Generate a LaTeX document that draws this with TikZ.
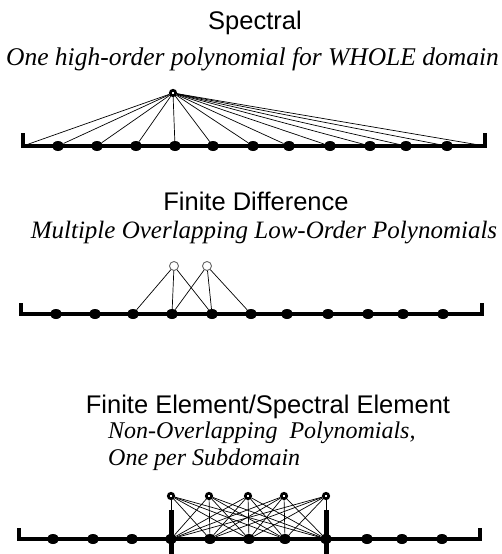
\documentclass[tikz,border=0pt]{standalone}
\usepackage{fontspec}
\setmainfont{Liberation Serif}
\setsansfont{Liberation Sans}
\usetikzlibrary{shapes.geometric}
\tikzset{
 axis/.style={line width=3.2pt},
 bar/.style={line width=5pt},
 dot/.style={fill,ellipse,inner sep=0pt,minimum width=12pt,minimum height=10pt},
 ring/.style={draw,circle,line width=2.6pt,inner sep=0pt,minimum size=5.5pt},
 lightring/.style={draw=black!60,circle,line width=0.9pt,inner sep=0pt,minimum size=9pt},
 fan/.style={line width=0.7pt},
 heading/.style={font=\sffamily\fontsize{25.5}{28}\selectfont,anchor=base,inner sep=0pt},
 subhead/.style={font=\itshape\fontsize{25.5}{28}\selectfont,anchor=base,inner sep=0pt}
}
\begin{document}
\begin{tikzpicture}[x=1pt,y=-1pt]
\useasboundingbox (0,0) rectangle (501,554);
% spectral
\node[heading] (spt) at (255,29) {Spectral};
\node[subhead] (sps) at (252.5,65) {One high-order polynomial for WHOLE domain};
\draw[axis] (23,133) -- (23,146) coordinate (sL) -- (485,146) coordinate (sR) -- (485,133);
\foreach \x [count=\i] in {58,97,136,175,213,253,289,330,370,406,447}
  \node[dot] (s\i) at (\x,146) {};
\node[ring] (stop) at (173,93) {};
\foreach \i in {1,...,11}
  \draw[fan] (stop) -- (s\i);
\draw[fan] (stop) -- (sL);
\draw[fan] (stop) -- (sR);
% finite difference
\node[heading] (fdt) at (256,210) {Finite Difference};
\node[subhead,font=\itshape\fontsize{25}{28}\selectfont] (fds) at (264,238) {Multiple Overlapping Low-Order Polynomials};
\draw[axis] (21,303) -- (21,314) -- (482,314) -- (482,303);
\foreach \x [count=\i] in {56,95,133,172,212,251,287,328,368,403,443}
  \node[dot] (f\i) at (\x,314) {};
\node[lightring] (fa) at (174,266) {};
\node[lightring] (fb) at (207,266) {};
\foreach \i in {3,4,5} \draw[fan] (fa) -- (f\i);
\foreach \i in {4,5,6} \draw[fan] (fb) -- (f\i);
% finite element / spectral element
\node[heading] (fet) at (268,413) {Finite Element/Spectral Element};
\node[subhead,anchor=base west,font=\itshape\fontsize{24}{28}\selectfont] (fesa) at (108,438) {Non-Overlapping\ \ Polynomials,};
\node[subhead,anchor=base west,font=\itshape\fontsize{24}{28}\selectfont] (fesb) at (108,465) {One per Subdomain};
\draw[bar] (171,510) -- (171,554);
\draw[bar] (326,510) -- (326,554);
\draw[axis] (19,528) -- (19,539) -- (480,539) -- (480,528);
\foreach \x [count=\i] in {53,93,132,171,210,249,285,326,367,402,442}
  \node[dot] (e\i) at (\x,539) {};
\foreach \x [count=\i] in {171,209,248,284,326}
  \node[ring] (er\i) at (\x,496) {};
\foreach \i in {1,...,5}
  \foreach \j in {4,...,8}
    \draw[fan] (er\i) -- (e\j);
\end{tikzpicture}
\end{document}
